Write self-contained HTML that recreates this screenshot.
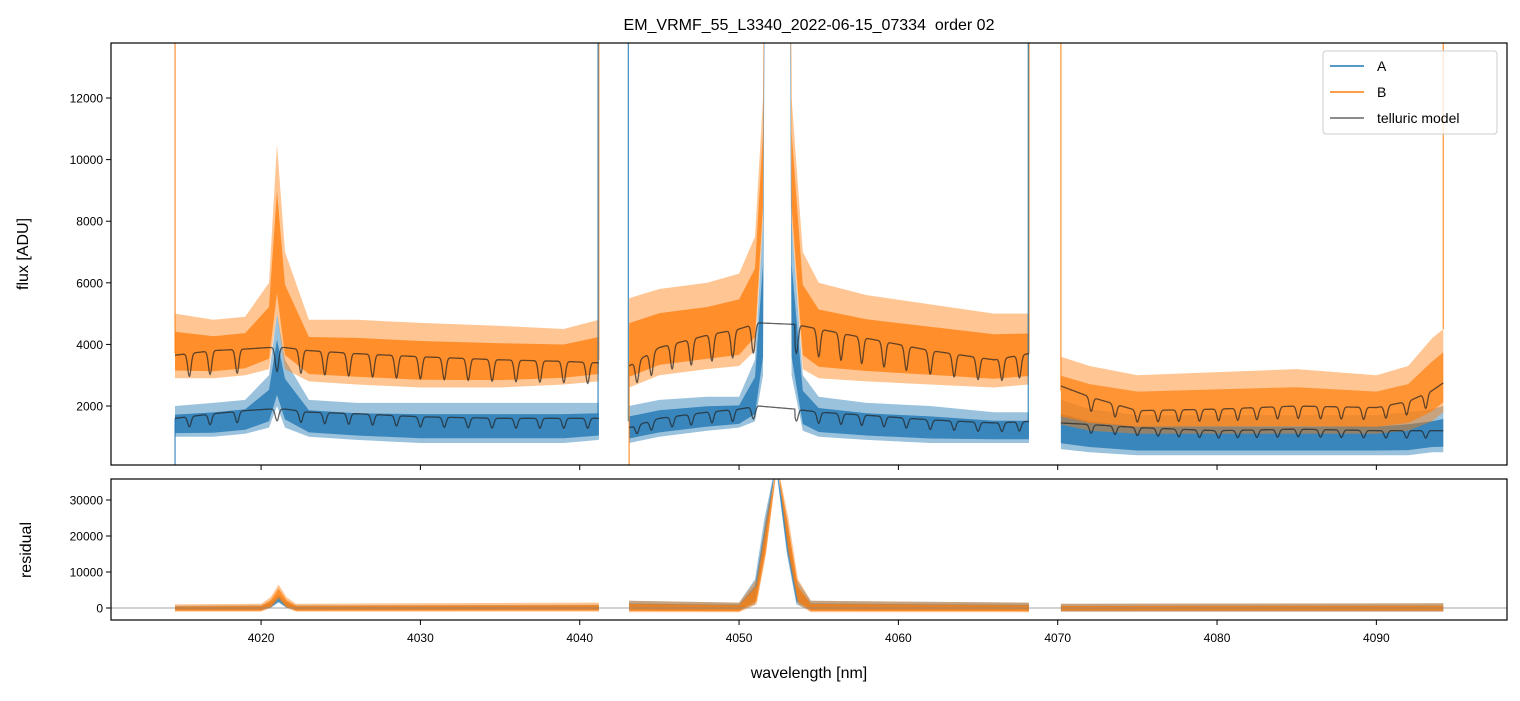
<!DOCTYPE html>
<html><head><meta charset="utf-8"><style>
body{margin:0;background:#fff;}
svg text{font-family:"Liberation Sans","DejaVu Sans",sans-serif;fill:#000;}
</style></head><body>
<svg id="c" width="1520" height="696" viewBox="0 0 1520 696" xmlns="http://www.w3.org/2000/svg">
<defs>
<clipPath id="clipTop"><rect x="111" y="43" width="1396" height="422"/></clipPath>
<clipPath id="clipBot"><rect x="111" y="479" width="1396" height="141"/></clipPath>
</defs>
<text x="809" y="30" font-size="16" text-anchor="middle">EM_VRMF_55_L3340_2022-06-15_07334&#160; order 02</text>
<g id="topPanel" clip-path="url(#clipTop)"></g>
<g id="botPanel" clip-path="url(#clipBot)"></g>
<g id="axes"></g>
<text transform="translate(28,254) rotate(-90)" font-size="16" text-anchor="middle">flux [ADU]</text>
<text transform="translate(31,550) rotate(-90)" font-size="16" text-anchor="middle">residual</text>
<text x="809" y="678" font-size="16" text-anchor="middle">wavelength [nm]</text>
<g>
<rect x="1323" y="51" width="174" height="83" rx="3" fill="#fff" fill-opacity="0.8" stroke="#ccc"/>
<line x1="1330" y1="66" x2="1364" y2="66" stroke="#1f77b4" stroke-width="1.6"/>
<text x="1377" y="71" font-size="14">A</text>
<line x1="1330" y1="92" x2="1364" y2="92" stroke="#ff7f0e" stroke-width="1.6"/>
<text x="1377" y="97" font-size="14">B</text>
<line x1="1330" y1="118" x2="1364" y2="118" stroke="#666" stroke-width="1.6"/>
<text x="1377" y="123" font-size="14">telluric model</text>
</g>
</svg>
<script>
// ---- data ----
const seg1W = [4014.6,4017,4019,4020.5,4021,4021.5,4023,4026,4030,4035,4039,4041.2];
const seg1BUp = [5000,4800,4900,6000,10500,7000,4800,4800,4700,4600,4500,4800];
const seg1BLo = [2900,2900,3000,3200,5000,3200,2800,2700,2600,2600,2700,2800];
const seg1AUp = [2000,2100,2200,3000,5000,3500,2200,2100,2100,2100,2100,2100];
const seg1ALo = [1000,1000,1100,1300,2000,1300,1000,900,800,800,800,900];
const seg1BTell = [3650,3800,3850,3900,3900,3900,3800,3700,3600,3500,3450,3400];
const seg1ATell = [1600,1750,1850,1900,1900,1900,1800,1750,1650,1600,1600,1600];

const seg2W = [4043.1,4045,4048,4050,4051,4051.5,4051.8,4053.0,4053.3,4054,4055,4058,4062,4066,4068.2];
const seg2BUp = [5500,5800,6000,6300,7500,12000,40000,40000,12000,7000,6000,5600,5300,5000,5000];
const seg2BLo = [2600,3000,3200,3300,3800,8000,40000,40000,8000,3200,2900,2800,2700,2600,2700];
const seg2AUp = [2000,2200,2300,2300,3500,8000,40000,40000,8000,3000,2300,2100,2000,1800,1800];
const seg2ALo = [800,1000,1200,1300,1500,3000,40000,40000,3000,1200,1000,900,800,800,800];
const seg2TW = [4043.1,4045,4048,4050,4051.2,4053.5,4055,4058,4062,4066,4068.2];
const seg2BTell = [3300,3900,4300,4500,4700,4650,4500,4200,3800,3500,3700];
const seg2ATell = [1300,1600,1800,1900,2000,1900,1800,1700,1550,1450,1500];

const seg3W = [4070.2,4072,4075,4080,4085,4090,4092,4093.5,4094.2];
const seg3BUp = [3600,3300,3000,3100,3200,3000,3300,4200,4500];
const seg3BLo = [1400,1200,1100,1100,1100,1100,1200,1500,1800];
const seg3AUp = [2200,1900,1700,1700,1700,1700,1800,1900,2000];
const seg3ALo = [600,500,400,400,400,400,400,500,500];
const seg3BTell = [2650,2300,1850,1900,2000,1950,2150,2500,2750];
const seg3ATell = [1450,1400,1300,1200,1250,1200,1200,1200,1200];

const dipCenters = [4015.5,4016.8,4018.5,4021.0,4022.5,4024,4025.5,4027,4028.5,4030,4031.5,4033,4034.5,4036,4037.5,4039,4040.5,
 4043.6,4044.5,4045.8,4047,4048.3,4049.6,4050.9,4053.6,4055,4056.4,4057.7,4059.1,4060.5,4062,4063.5,4065,4066.5,4067.6,
 4072.1,4073.6,4075,4076.3,4077.6,4078.9,4080.1,4081.3,4082.5,4083.8,4085.1,4086.5,4087.8,4089.2,4090.6,4091.9,4093.1];
const dipDepth = 0.2;

const edgeW = [4014.6,4014.6,4041.2,4041.15,4043.05,4043.1,4068.2,4068.15,4070.2,4094.2];
const edgeS = ['B','A','B','A','A','B','B','A','B','B'];
const edgeFrom = [3700,1600,3500,1700,1500,3400,3700,1500,2500,4500];
const edgeTo = [14000,0,14000,14000,14000,0,14000,14000,14000,14000];

const rW1 = [4014.6,4020,4020.6,4021.1,4021.6,4022.2,4041.2];
const rUp1 = [1000,1200,3000,6500,3000,1200,1500];
const rLo1 = [-1000,-1000,0,2500,0,-1000,-1000];
const rW2 = [4043.1,4050,4051,4051.6,4052.3,4053,4053.6,4054.5,4068.2];
const rUp2 = [2000,1500,8000,25000,40000,25000,8000,2000,1500];
const rLo2 = [-1200,-1200,1000,15000,40000,15000,1000,-1200,-1200];
const rW3 = [4070.2,4094.2];
const rUp3 = [1200,1300];
const rLo3 = [-1000,-1000];

const xTicks = [4020,4030,4040,4050,4060,4070,4080,4090];
const yTicksTop = [2000,4000,6000,8000,10000,12000];
const yTicksBot = [0,10000,20000,30000];

// ---- scales ----
const X0=111,X1=1507;
const xMin=4010.58, xMax=4098.2;
const sx = w => X0 + (w-xMin)/(xMax-xMin)*(X1-X0);
const syT = v => 465 - (v-85)/(13786-85)*422;
const syB = v => 620 - (v+3333)/(35833+3333)*141;
const NS='http://www.w3.org/2000/svg';
function mk(tag, attrs, parent){const e=document.createElementNS(NS,tag);for(const k in attrs)e.setAttribute(k,attrs[k]);parent.appendChild(e);return e;}
const topG=document.getElementById('topPanel'), botG=document.getElementById('botPanel'), axesG=document.getElementById('axes');

function bandPath(parent, w, up, lo, sy, fill, op, name){
  let d='M'+w.map((x,i)=>sx(x).toFixed(1)+','+sy(up[i]).toFixed(1)).join('L');
  for(let i=w.length-1;i>=0;i--) d+='L'+sx(w[i]).toFixed(1)+','+sy(lo[i]).toFixed(1);
  const p=mk('path',{d:d+'Z',fill:fill,'fill-opacity':op,stroke:'none'},parent);
  
  
}
// outer fringe (light) + dense core
function band(parent, w, up, lo, sy, fill, name, coreOp){
  bandPath(parent,w,up,lo,sy,fill,0.45,name+'-fringe');
  const cu=up.map((u,i)=>lo[i]+0.72*(u-lo[i]));
  const cl=up.map((u,i)=>lo[i]+0.12*(u-lo[i]));
  bandPath(parent,w,cu,cl,sy,fill,coreOp,name);
}
function interp(w,v,x){for(let i=0;i<w.length-1;i++){if(x>=w[i]&&x<=w[i+1]){const t=(x-w[i])/(w[i+1]-w[i]);return v[i]+t*(v[i+1]-v[i]);}}return v[v.length-1];}
function tell(parent, w, v, name){
  let d='';
  const skipA=4051.2, skipB=4053.5;
  for(let x=w[0]; x<=w[w.length-1]+1e-9; x+=0.02){
    let f=1;
    for(const c of dipCenters){const z=(x-c)/0.15;f-=dipDepth*Math.exp(-z*z);}
    const val=interp(w,v,x);
    if(x>skipA && x<skipB) f=1;
    d+=(d?'L':'M')+sx(x).toFixed(1)+','+syT(val*f).toFixed(1);
  }
  const p=mk('path',{d:d,fill:'none',stroke:'#222','stroke-opacity':0.7,'stroke-width':1.3},parent);
  
  
}

const cA='#1f77b4', cB='#ff7f0e';
band(topG,seg1W,seg1AUp,seg1ALo,syT,cA,'series-a-seg1',0.8);
band(topG,seg2W,seg2AUp,seg2ALo,syT,cA,'series-a-seg2',0.8);
band(topG,seg3W,seg3AUp,seg3ALo,syT,cA,'series-a-seg3',0.8);
band(topG,seg1W,seg1BUp,seg1BLo,syT,cB,'series-b-seg1',0.78);
band(topG,seg2W,seg2BUp,seg2BLo,syT,cB,'series-b-seg2',0.78);
band(topG,seg3W,seg3BUp,seg3BLo,syT,cB,'series-b-seg3',0.7);
edgeW.forEach((w,i)=>{
  const l=mk('line',{x1:sx(w),x2:sx(w),y1:syT(edgeFrom[i]),y2:syT(edgeTo[i]),stroke:edgeS[i]==='A'?cA:cB,'stroke-opacity':0.85,'stroke-width':1.2},topG);
  
  
});
tell(topG,seg1W,seg1BTell,'telluric-b-seg1');
tell(topG,seg1W,seg1ATell,'telluric-a-seg1');
tell(topG,seg2TW,seg2BTell,'telluric-b-seg2');
tell(topG,seg2TW,seg2ATell,'telluric-a-seg2');
tell(topG,seg3W,seg3BTell,'telluric-b-seg3');
tell(topG,seg3W,seg3ATell,'telluric-a-seg3');

band(botG,rW1,rUp1.map(v=>v*0.6),rLo1.map(v=>v*0.6),syB,cA,'residual-a-seg1',0.7);
band(botG,rW2,rUp2,rLo2.map(v=>v<0?v*0.6:v),syB,cA,'residual-a-seg2',0.7);
band(botG,rW3,rUp3,rLo3,syB,cA,'residual-a-seg3',0.6);
band(botG,rW1,rUp1,rLo1,syB,cB,'residual-b-seg1',0.75);
band(botG,rW2.map((w,i)=>w+(i>=2&&i<=6?0.1:0)),rUp2,rLo2,syB,cB,'residual-b-seg2',0.75);
band(botG,rW3,rUp3,rLo3,syB,cB,'residual-b-seg3',0.75);
const zl=mk('line',{x1:X0,x2:X1,y1:syB(0),y2:syB(0),stroke:'#888','stroke-width':0.8},botG);



[[43,465,'flux-axes-frame'],[479,620,'residual-axes-frame']].forEach(([y0,y1,n])=>{
  const r=mk('rect',{x:X0,y:y0,width:X1-X0,height:y1-y0,fill:'none',stroke:'#000','stroke-width':1.2},axesG);
  
  
});
xTicks.forEach(t=>{
  const x=sx(t);
  const a=mk('line',{x1:x,x2:x,y1:465,y2:470,stroke:'#000'},axesG);
  
  
  const b=mk('line',{x1:x,x2:x,y1:620,y2:625,stroke:'#000'},axesG);
  
  
  const tx=mk('text',{x:x,y:642,'font-size':12,'text-anchor':'middle'},axesG);
  tx.textContent=t;
  
  
});
yTicksTop.forEach(t=>{
  const y=syT(t);
  const a=mk('line',{x1:106,x2:111,y1:y,y2:y,stroke:'#000'},axesG);
  
  
  const tx=mk('text',{x:103,y:y+4.5,'font-size':12,'text-anchor':'end'},axesG);
  tx.textContent=t;
  
  
});
yTicksBot.forEach(t=>{
  const y=syB(t);
  const a=mk('line',{x1:106,x2:111,y1:y,y2:y,stroke:'#000'},axesG);
  
  
  const tx=mk('text',{x:103,y:y+4.5,'font-size':12,'text-anchor':'end'},axesG);
  tx.textContent=t;
  
  
});
</script>
</body></html>
